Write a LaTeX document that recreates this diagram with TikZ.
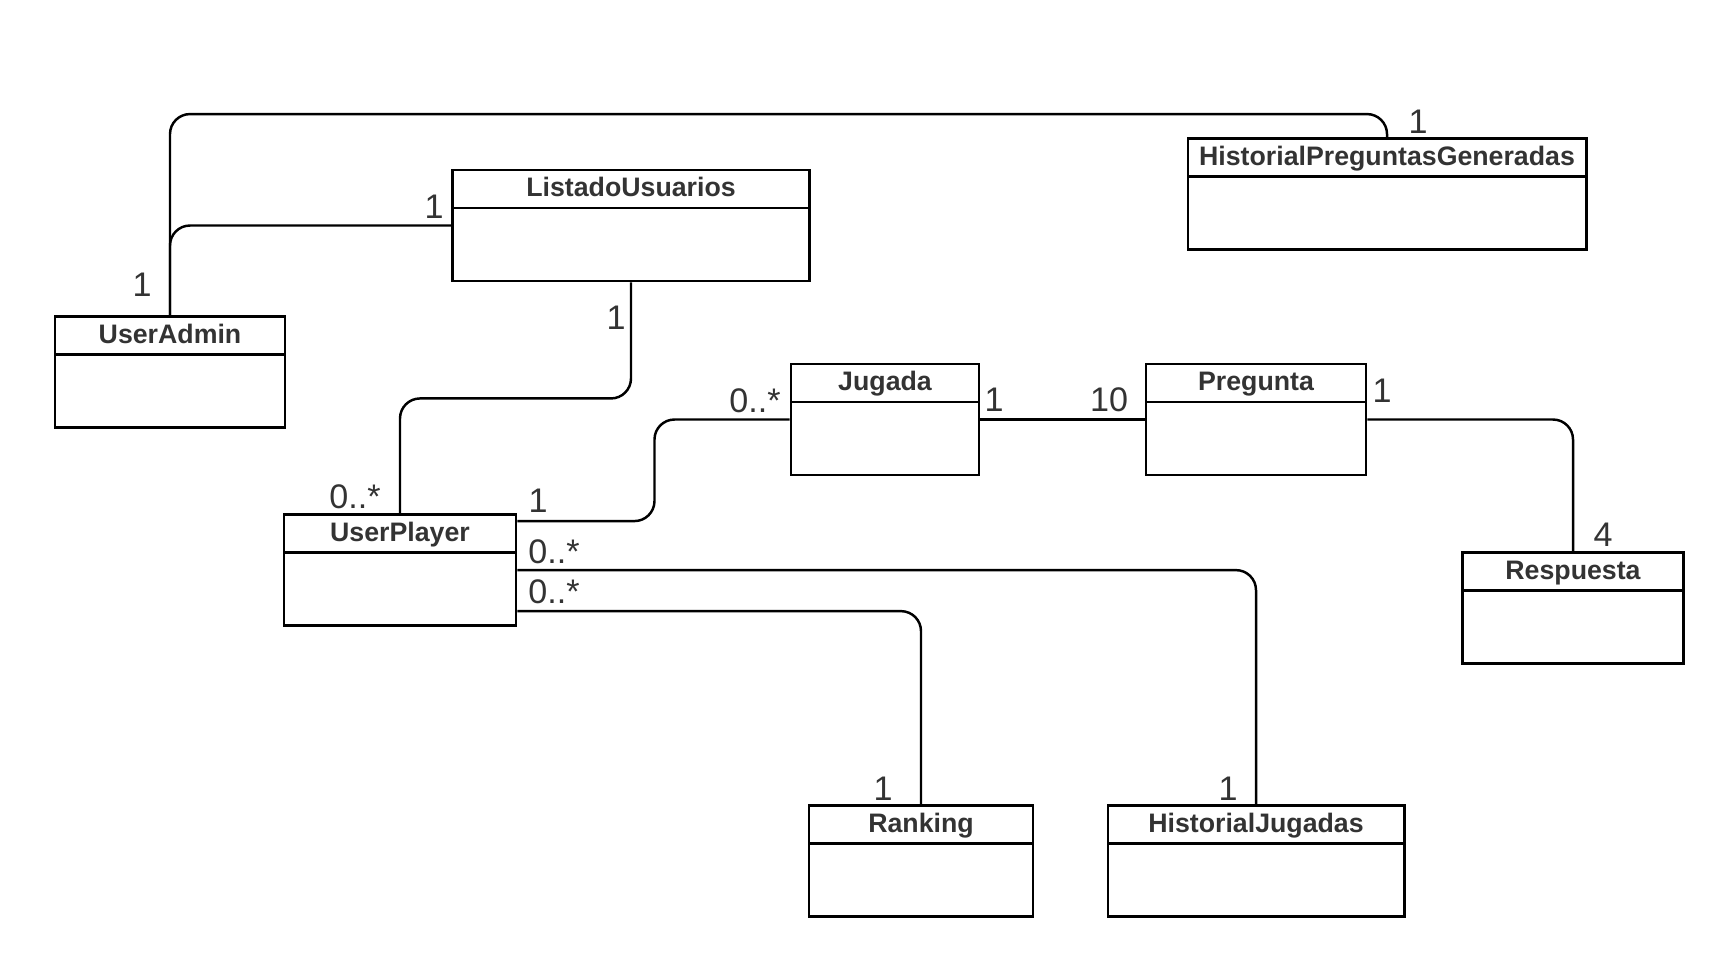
\documentclass[tikz,border=0pt]{standalone}
\usepackage{fontspec}
\setmainfont{Liberation Sans}
\usepackage{tikz}
\definecolor{txtgray}{HTML}{333333}

\begin{document}
\begin{tikzpicture}[x=0.01cm, y=-0.01cm, line width=0.7pt,
		class node/.style={draw, line width=0.8pt, inner sep=0pt, text height=0.27cm, text depth=0.84cm,
			minimum height=1.11cm, text=txtgray, font=\fontsize{7.6}{9}\selectfont\bfseries,
			path picture={\draw[line width=0.8pt] ([yshift=-0.38cm]path picture bounding box.north west)
				-- ([yshift=-0.38cm]path picture bounding box.north east);}},
		mult/.style={text=txtgray, inner sep=0pt, font=\fontsize{9.7}{11}\selectfont},
		assoc/.style={rounded corners=0.2cm}]
		
		\useasboundingbox (0,0) rectangle (1725,960);
		
		\node[class node, minimum width=2.30cm] (admin) at (170,372) {UserAdmin};
		\node[class node, minimum width=3.56cm] (listado) at (631,225.5) {ListadoUsuarios};
		\node[class node, minimum width=3.98cm] (hpg) at (1387,194) {HistorialPreguntasGeneradas};
		\node[class node, minimum width=1.88cm] (jugada) at (885,419.5) {Jugada};
		\node[class node, minimum width=2.20cm] (pregunta) at (1256,419.5) {Pregunta};
		\node[class node, minimum width=2.32cm] (player) at (400,570) {UserPlayer};
		\node[class node, minimum width=2.21cm] (respuesta) at (1573,608) {Respuesta};
		\node[class node, minimum width=2.24cm] (ranking) at (921,861) {Ranking};
		\node[class node, minimum width=2.96cm] (hjugadas) at (1256,861) {HistorialJugadas};
		
		\draw[assoc] (admin.north) -- ++(0,-201) -| (hpg.north);
		\draw[assoc] (admin.north) |- (listado.west);
		\draw[assoc] (listado.south) -- ++(0,116) -| (player.north);
		\draw[assoc] ([yshift=-0.08cm]player.north east) -- ++(137,0) |- (jugada.west);
		\draw (jugada.east) -- (pregunta.west);
		\draw[assoc] (pregunta.east) -| (respuesta.north);
		\draw[assoc] ([yshift=-0.57cm]player.north east) -| (hjugadas.north);
		\draw[assoc] ([yshift=-0.98cm]player.north east) -| (ranking.north);
		
		% multiplicities
		\node[mult] (m admin) at (142,285) {1};
		\node[mult] (m listado left) at (434,207) {1};
		\node[mult] (m hpg) at (1418,122) {1};
		\node[mult] (m listado down) at (616,318) {1};
		\node[mult] (m player top) at (355,497) {0..*};
		\node[mult] (m player jug) at (538,501) {1};
		\node[mult] (m jugada left) at (755,401) {0..*};
		\node[mult] (m jugada right) at (994,400) {1};
		\node[mult] (m pregunta left) at (1109,400) {10};
		\node[mult] (m pregunta right) at (1382,391) {1};
		\node[mult] (m respuesta) at (1603,535) {4};
		\node[mult] (m player hj) at (554,552) {0..*};
		\node[mult] (m player rk) at (554,592) {0..*};
		\node[mult] (m ranking) at (883,789) {1};
		\node[mult] (m hjugadas) at (1228,789) {1};
\end{tikzpicture}
\end{document}
